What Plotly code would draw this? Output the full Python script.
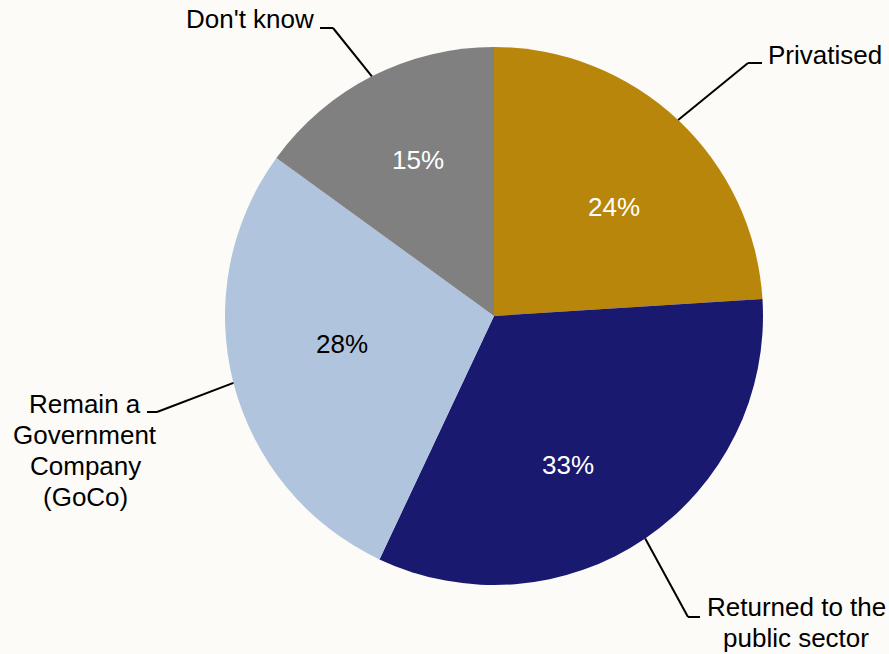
import math
import plotly.graph_objects as go

# ---- data ----
categories = ["Privatised", "Returned to the public sector",
              "Remain a Government Company (GoCo)", "Don't know"]
label_lines = [["Privatised"],
               ["Returned to the", "public sector"],
               ["Remain a", "Government", "Company", "(GoCo)"],
               ["Don't know"]]
values = [24, 33, 28, 15]
colors = ["#B8860B", "#191970", "#B0C4DE", "#808080"]
pct_font_colors = ["white", "white", "black", "white"]

# ---- layout constants (pixels) ----
W, H = 889, 654
CX, CY, R = 494, 316, 269
BG = "#FCFBF7"
FONT = "Liberation Sans, Arial, sans-serif"
FS = 26
LINE_GAP = 31

def px(x):
    return x / W

def py(y):
    return 1 - y / H

# percent label centres (pixels)
pct_pos = [(614, 207), (568, 465), (342, 344), (418, 160)]
# outside label anchors: (x, y of first line centre, xanchor)
lab_pos = [(766, 55, "left"), (796, 607, "center"), (85, 404, "center"), (316, 19, "right")]
# leader line elbows: (elbow, end of horizontal tick)
elbows = [((748, 63), (762, 63)), ((688, 617), (700, 617)),
          ((157, 412), (147, 412)), ((333, 28), (320, 28))]

fig = go.Figure(go.Pie(
    labels=categories,
    values=values,
    sort=False,
    direction="clockwise",
    rotation=0,
    marker=dict(colors=colors, line=dict(width=0)),
    textinfo="none",
    hoverinfo="label+percent",
    showlegend=False,
    domain=dict(x=[px(CX - R), px(CX + R)], y=[py(CY + R), py(CY - R)]),
))

total = sum(values)
annotations = []
shapes = []
cum = 0
for i, v in enumerate(values):
    mid = (cum + v / 2) / total * 2 * math.pi
    cum += v
    ex = CX + R * math.sin(mid)
    ey = CY - R * math.cos(mid)
    (bx, by), (tx, ty) = elbows[i]
    shapes.append(dict(type="line", xref="paper", yref="paper",
                       x0=px(ex), y0=py(ey), x1=px(bx), y1=py(by),
                       line=dict(color="black", width=2)))
    shapes.append(dict(type="line", xref="paper", yref="paper",
                       x0=px(bx), y0=py(by), x1=px(tx), y1=py(ty),
                       line=dict(color="black", width=2)))
    # percent label
    annotations.append(dict(x=px(pct_pos[i][0]), y=py(pct_pos[i][1]),
                            xref="paper", yref="paper", showarrow=False,
                            text=f"{v}%", xanchor="center", yanchor="middle",
                            font=dict(family=FONT, size=FS, color=pct_font_colors[i])))
    lx, ly, xa = lab_pos[i]
    for j, line in enumerate(label_lines[i]):
        annotations.append(dict(x=px(lx), y=py(ly + j * LINE_GAP), xref="paper", yref="paper",
                                showarrow=False, text=line,
                                xanchor=xa, yanchor="middle", align="center",
                                font=dict(family=FONT, size=FS, color="black")))

fig.update_layout(
    width=W, height=H,
    margin=dict(l=0, r=0, t=0, b=0),
    paper_bgcolor=BG, plot_bgcolor=BG,
    annotations=annotations,
    shapes=shapes,
)

fig.write_html("out.html",
               config={"displayModeBar": False},
               post_script="document.body.style.margin='0';document.body.style.padding='0';"
                           "document.body.style.overflow='hidden';")
